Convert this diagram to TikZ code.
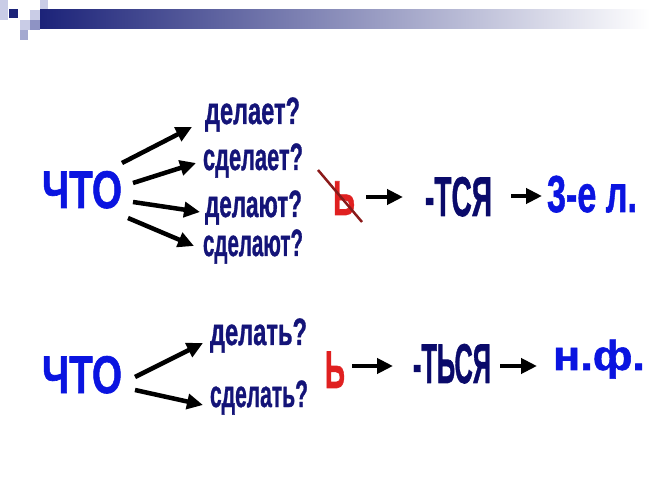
\documentclass[tikz,border=0pt]{standalone}
\usepackage{fontspec}
\setmainfont{Liberation Sans}[BoldFeatures={FakeBold=1.2}]
\usetikzlibrary{arrows.meta}
\definecolor{navyhd}{HTML}{1C2379}
\definecolor{lightsq}{HTML}{C9CCE6}
\definecolor{medsq}{HTML}{8E93C4}
\definecolor{ctoblue}{HTML}{0A14E0}
\definecolor{lblnavy}{HTML}{141478}
\definecolor{sfxnavy}{HTML}{0A0A6A}
\definecolor{redsoft}{HTML}{E02020}
\definecolor{darkred}{HTML}{8B1A1A}
\newcommand\fw[2]{\resizebox{#1}{\height}{#2}}
\newcommand\fsz[1]{\bfseries\fontsize{#1}{#1}\selectfont}
\tikzset{
  txt/.style={inner sep=0pt, anchor=base},
  cto/.style={txt, text=ctoblue, font=\fsz{53}},
  lbl/.style={txt, text=lblnavy, font=\fsz{38}},
  sfx/.style={txt, text=sfxnavy, font=\fsz{56}},
  res/.style={txt, text=ctoblue, font=\fsz{52}},
  soft/.style={txt, text=redsoft},
  arr/.style={line width=4.5pt, -{Triangle[length=16pt,width=15pt]}},
}
\begin{document}
\begin{tikzpicture}[x=1pt,y=-1pt]
\useasboundingbox (0,0) rectangle (659,494);
% header decoration
\fill[lightsq] (0,0) rectangle (8,20);
\fill[lightsq] (30,10) rectangle (40,20);
\fill[lightsq] (40,0) rectangle (48,10);
\fill[lightsq] (20,20) rectangle (30,30);
\fill[medsq] (30,20) rectangle (40,30);
\fill[medsq!80] (20,30) rectangle (28,40);
\fill[navyhd] (9,9) rectangle (18,18);
\shade[left color=navyhd, right color=white] (40,10) rectangle (650,29);

% top block
\node[cto] (cto1) at (82,208) {\fw{80pt}{ЧТО}};
\node[lbl] (l1) at (252.5,124) {\fw{95pt}{делает?}};
\node[lbl] (l2) at (253,170) {\fw{100pt}{сделает?}};
\node[lbl] (l3) at (253.5,217) {\fw{97pt}{делают?}};
\node[lbl] (l4) at (253,256) {\fw{100pt}{сделают?}};
\draw[arr] ([xshift=40pt,yshift=45pt]cto1.base) -- ([xshift=-60.5pt,yshift=-3pt]l1.base);
\draw[arr] ([xshift=51pt,yshift=25pt]cto1.base) -- ([xshift=-57pt,yshift=7pt]l2.base);
\draw[arr] ([xshift=51pt,yshift=6pt]cto1.base) -- ([xshift=-53.5pt,yshift=5pt]l3.base);
\draw[arr] ([xshift=46pt,yshift=-10pt]cto1.base) -- ([xshift=-59pt,yshift=10pt]l4.base);

\node[soft, font=\fsz{49}] (s1) at (344,215) {\fw{22pt}{Ь}};
\draw[darkred, line width=2.5pt] ([xshift=-26pt,yshift=45pt]s1.base) -- ([xshift=18pt,yshift=-7pt]s1.base);
\node[sfx] (t1) at (458.5,216) {\fw{67pt}{-ТСЯ}};
\node[res] (r1) at (592,212) {\fw{90pt}{3-е л.}};
\draw[arr] ([xshift=22pt,yshift=18pt]s1.base) -- ([xshift=-55.5pt,yshift=19pt]t1.base);
\draw[arr] ([xshift=52.5pt,yshift=20pt]t1.base) -- ([xshift=-50pt,yshift=16pt]r1.base);

% bottom block
\node[cto] (cto2) at (82,393) {\fw{80pt}{ЧТО}};
\node[lbl] (m1) at (258.5,345) {\fw{97pt}{делать?}};
\node[lbl] (m2) at (259,407) {\fw{98pt}{сделать?}};
\draw[arr] ([xshift=53pt,yshift=16pt]cto2.base) -- ([xshift=-55.5pt,yshift=2pt]m1.base);
\draw[arr] ([xshift=53pt,yshift=3pt]cto2.base) -- ([xshift=-56pt,yshift=2pt]m2.base);

\node[soft, font=\fsz{53}] (s2) at (335,388) {\fw{20pt}{Ь}};
\node[sfx] (t2) at (452,383) {\fw{78pt}{-ТЬСЯ}};
\node[res, font=\fsz{42}] (r2) at (599,370) {\fw{92pt}{н.ф.}};
\draw[arr] ([xshift=17pt,yshift=22pt]s2.base) -- ([xshift=-59pt,yshift=17pt]t2.base);
\draw[arr] ([xshift=48pt,yshift=17pt]t2.base) -- ([xshift=-62pt,yshift=4pt]r2.base);
\end{tikzpicture}
\end{document}
